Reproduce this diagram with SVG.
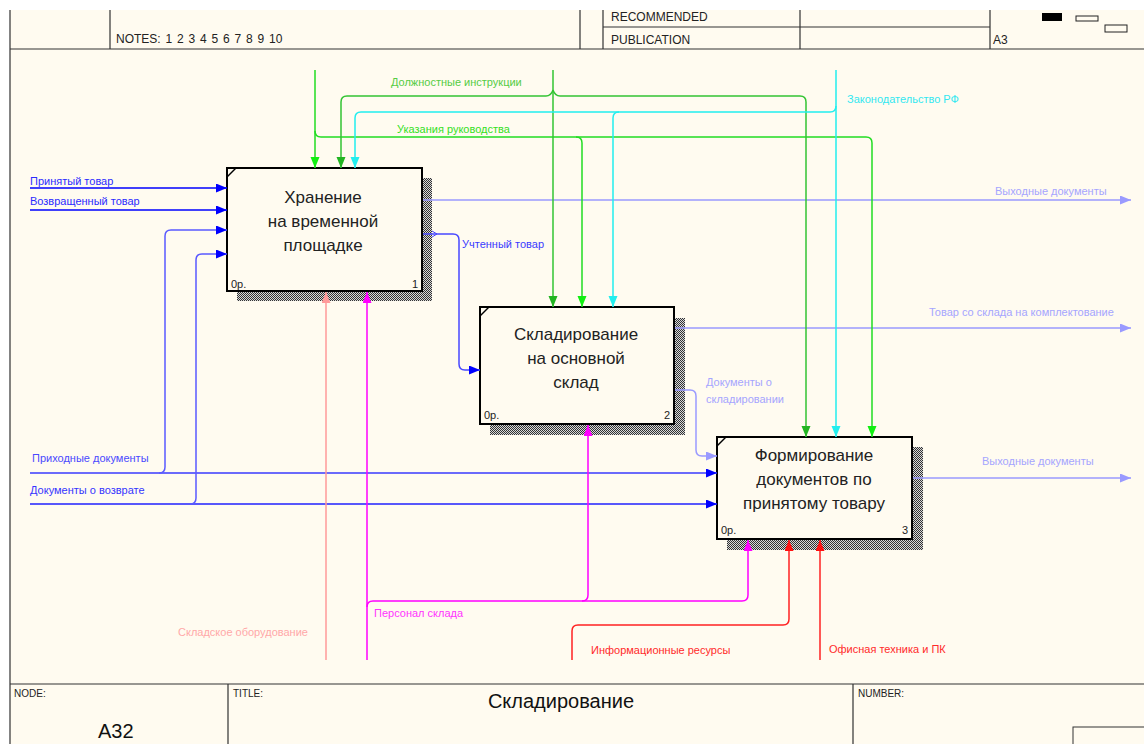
<svg xmlns="http://www.w3.org/2000/svg" width="1144" height="744" viewBox="0 0 1144 744">
<style>
.frame{stroke:#333;stroke-width:1.2;fill:none}
.hdr{font-family:"Liberation Sans",Arial,sans-serif;font-size:12px;fill:#222}
.small{font-family:"Liberation Sans",Arial,sans-serif;font-size:10px;fill:#222}
.big{font-family:"Liberation Sans",Arial,sans-serif;font-size:20px;fill:#111}
.box{fill:#fffbf0;stroke:#000;stroke-width:2}
.btxt{font-family:"Liberation Sans",Arial,sans-serif;font-size:17px;fill:#222;text-anchor:middle}
.bnum{font-family:"Liberation Sans",Arial,sans-serif;font-size:11px;fill:#222}
.lbl{font-family:"Liberation Sans",Arial,sans-serif;font-size:11px}
.c{fill:none;stroke-width:1.5}
</style>
<defs>
<pattern id="hatch" width="2" height="2" patternUnits="userSpaceOnUse">
<rect width="2" height="2" fill="#d8d8d8"/>
<rect width="1" height="1" fill="#333"/>
<rect x="1" y="1" width="1" height="1" fill="#333"/>
</pattern>
<marker id="mBlue" markerUnits="userSpaceOnUse" markerWidth="12" markerHeight="10" refX="11" refY="4.5" orient="auto"><path d="M0,0 L11,4.5 L0,9 z" fill="#0000ff"/></marker>
<marker id="mLav" markerUnits="userSpaceOnUse" markerWidth="12" markerHeight="10" refX="11" refY="4.5" orient="auto"><path d="M0,0 L11,4.5 L0,9 z" fill="#9a9aff"/></marker>
<marker id="mDG" markerUnits="userSpaceOnUse" markerWidth="12" markerHeight="10" refX="11" refY="4.5" orient="auto"><path d="M0,0 L11,4.5 L0,9 z" fill="#22b422"/></marker>
<marker id="mG" markerUnits="userSpaceOnUse" markerWidth="12" markerHeight="10" refX="11" refY="4.5" orient="auto"><path d="M0,0 L11,4.5 L0,9 z" fill="#11ee11"/></marker>
<marker id="mC" markerUnits="userSpaceOnUse" markerWidth="12" markerHeight="10" refX="11" refY="4.5" orient="auto"><path d="M0,0 L11,4.5 L0,9 z" fill="#22eeee"/></marker>
<marker id="mP" markerUnits="userSpaceOnUse" markerWidth="12" markerHeight="10" refX="11" refY="4.5" orient="auto"><path d="M0,0 L11,4.5 L0,9 z" fill="#ff9a9a"/></marker>
<marker id="mM" markerUnits="userSpaceOnUse" markerWidth="12" markerHeight="10" refX="11" refY="4.5" orient="auto"><path d="M0,0 L11,4.5 L0,9 z" fill="#ff00ff"/></marker>
<marker id="mR" markerUnits="userSpaceOnUse" markerWidth="12" markerHeight="10" refX="11" refY="4.5" orient="auto"><path d="M0,0 L11,4.5 L0,9 z" fill="#ff1111"/></marker>
</defs>
<rect width="1144" height="744" fill="#ffffff"/>
<rect x="10" y="10" width="1134" height="734" fill="#fffbf0"/>
<g id="frame">
<path class="frame" d="M10,10 V744 M10,49 H1144 M110,10 V49 M580,10 V49 M603,10 V49 M800,10 V49 M990,10 V49 M603,27 H990"/>
<text class="hdr" x="116" y="43" word-spacing="1.5">NOTES: 1 2 3 4 5 6 7 8 9 10</text>
<text class="hdr" x="611" y="21">RECOMMENDED</text>
<text class="hdr" x="611" y="44">PUBLICATION</text>
<text class="hdr" x="993" y="44">A3</text>
<rect x="1042" y="13" width="20" height="8" fill="#000"/>
<rect x="1076" y="16" width="22" height="5" fill="none" stroke="#222"/>
<rect x="1105" y="25" width="22" height="7" fill="none" stroke="#222"/>
<path class="frame" d="M10,684 H1144 M228,684 V744 M853,684 V744"/>
<rect x="1073" y="727" width="80" height="30" fill="none" stroke="#333"/>
<text class="small" x="14" y="697">NODE:</text>
<text class="small" x="233" y="697">TITLE:</text>
<text class="small" x="858" y="697">NUMBER:</text>
<text class="big" x="98" y="738">A32</text>
<text class="big" x="561" y="708" text-anchor="middle">Складирование</text>
</g>
<g id="node1">
<rect x="237" y="291" width="195" height="10" fill="url(#hatch)"/>
<rect x="422" y="178" width="10" height="123" fill="url(#hatch)"/>
<rect class="box" x="227" y="168" width="195" height="123"/>
<path d="M227,177 L236,168" stroke="#000" stroke-width="1.5"/>
<text class="btxt" x="323" y="203">Хранение</text>
<text class="btxt" x="323" y="227">на временной</text>
<text class="btxt" x="323" y="251">площадке</text>
<text class="bnum" x="231" y="288">0р.</text>
<text class="bnum" x="418" y="288" text-anchor="end">1</text>
</g>
<g id="node2">
<rect x="490" y="424" width="195" height="11" fill="url(#hatch)"/>
<rect x="674" y="318" width="11" height="117" fill="url(#hatch)"/>
<rect class="box" x="480" y="307" width="194" height="117"/>
<path d="M480,316 L489,307" stroke="#000" stroke-width="1.5"/>
<text class="btxt" x="576" y="340">Складирование</text>
<text class="btxt" x="576" y="364">на основной</text>
<text class="btxt" x="576" y="388">склад</text>
<text class="bnum" x="484" y="419">0р.</text>
<text class="bnum" x="670" y="419" text-anchor="end">2</text>
</g>
<g id="node3">
<rect x="727" y="539" width="196" height="11" fill="url(#hatch)"/>
<rect x="912" y="447" width="11" height="103" fill="url(#hatch)"/>
<rect class="box" x="717" y="437" width="195" height="102"/>
<path d="M717,446 L726,437" stroke="#000" stroke-width="1.5"/>
<text class="btxt" x="814" y="461">Формирование</text>
<text class="btxt" x="814" y="485">документов по</text>
<text class="btxt" x="814" y="509">принятому товару</text>
<text class="bnum" x="721" y="534">0р.</text>
<text class="bnum" x="908" y="534" text-anchor="end">3</text>
</g>
<g id="connectors">
<path class="c" stroke="#0000ff" d="M30,188 H227" marker-end="url(#mBlue)"/>
<path class="c" stroke="#0000ff" d="M30,210 H227" marker-end="url(#mBlue)"/>
<path class="c" stroke="#3a3aff" d="M30,473 H717" marker-end="url(#mBlue)"/>
<path class="c" stroke="#5a5aff" d="M159,473 Q165,473 165,467 V236 Q165,230 171,230 H227" marker-end="url(#mBlue)"/>
<path class="c" stroke="#2020ff" d="M30,504 H717" marker-end="url(#mBlue)"/>
<path class="c" stroke="#5a5aff" d="M190,504 Q196,504 196,498 V260 Q196,254 202,254 H227" marker-end="url(#mBlue)"/>
<path class="c" stroke="#4848ff" d="M423,234 H453 Q459,234 459,240 V364 Q459,370 465,370 H480" marker-end="url(#mBlue)"/>
<path fill="none" stroke="#4848ff" stroke-width="1" d="M432,231 L437,234 L432,237"/>
<path class="c" stroke="#9a9aff" d="M423,200 H1131" marker-end="url(#mLav)"/>
<path class="c" stroke="#9a9aff" d="M675,328 H1131" marker-end="url(#mLav)"/>
<path class="c" stroke="#9a9aff" d="M675,390 H690 Q696,390 696,396 V450 Q696,456 702,456 H717" marker-end="url(#mLav)"/>
<path class="c" stroke="#9a9aff" d="M913,478 H1131" marker-end="url(#mLav)"/>
<path class="c" stroke="#22dd22" d="M315,70 V168" marker-end="url(#mG)"/>
<path class="c" stroke="#22dd22" d="M315,131 Q315,137 321,137 H866 Q872,137 872,143 V437" marker-end="url(#mG)"/>
<path class="c" stroke="#22dd22" d="M576,137 Q582,137 582,143 V307" marker-end="url(#mG)"/>
<path class="c" stroke="#33c433" d="M553,70 V307" marker-end="url(#mDG)"/>
<path class="c" stroke="#33c433" d="M553,90 Q551,96 546,96 H347 Q341,96 341,102 V168" marker-end="url(#mDG)"/>
<path class="c" stroke="#33c433" d="M553,90 Q555,96 560,96 H800 Q806,96 806,102 V437" marker-end="url(#mDG)"/>
<path class="c" stroke="#22eeee" d="M836,70 V437" marker-end="url(#mC)"/>
<path class="c" stroke="#22eeee" d="M836,106 Q836,112 830,112 H361 Q355,112 355,118 V168" marker-end="url(#mC)"/>
<path class="c" stroke="#22eeee" d="M619,112 Q613,112 613,118 V307" marker-end="url(#mC)"/>
<path class="c" stroke="#ff9a9a" d="M326,660 V292" marker-end="url(#mP)"/>
<path class="c" stroke="#ff00ff" d="M367,660 V292" marker-end="url(#mM)"/>
<path class="c" stroke="#ff00ff" d="M367,607 Q367,601 373,601 H742 Q748,601 748,595 V540" marker-end="url(#mM)"/>
<path class="c" stroke="#ff00ff" d="M582,601 Q588,601 588,595 V425" marker-end="url(#mM)"/>
<path class="c" stroke="#ff2222" d="M572,660 V631 Q572,625 578,625 H783 Q789,625 789,619 V540" marker-end="url(#mR)"/>
<path class="c" stroke="#ff2222" d="M820,660 V540" marker-end="url(#mR)"/>
<text class="lbl" fill="#2b2bff" x="30" y="185">Принятый товар</text>
<text class="lbl" fill="#2b2bff" x="30" y="205">Возвращенный товар</text>
<text class="lbl" fill="#4a4aff" x="32" y="462">Приходные документы</text>
<text class="lbl" fill="#3535ff" x="30" y="494">Документы о возврате</text>
<text class="lbl" fill="#3a3aff" x="462" y="248">Учтенный товар</text>
<text class="lbl" fill="#a5a5ff" x="995" y="195">Выходные документы</text>
<text class="lbl" fill="#a5a5ff" x="929" y="316">Товар со склада на комплектование</text>
<text class="lbl" fill="#a5a5ff" x="706" y="386">Документы о</text>
<text class="lbl" fill="#a5a5ff" x="706" y="403">складировании</text>
<text class="lbl" fill="#a5a5ff" x="982" y="465">Выходные документы</text>
<text class="lbl" fill="#55cc44" x="391" y="86">Должностные инструкции</text>
<text class="lbl" fill="#33e022" x="397" y="133">Указания руководства</text>
<text class="lbl" fill="#33e8f0" x="847" y="103">Законодательство РФ</text>
<text class="lbl" fill="#ffa8a8" x="178" y="636">Складское оборудование</text>
<text class="lbl" fill="#ff33ff" x="374" y="617">Персонал склада</text>
<text class="lbl" fill="#ff2a2a" x="591" y="654">Информационные ресурсы</text>
<text class="lbl" fill="#ff2a2a" x="829" y="653">Офисная техника и ПК</text>
</g>
</svg>
